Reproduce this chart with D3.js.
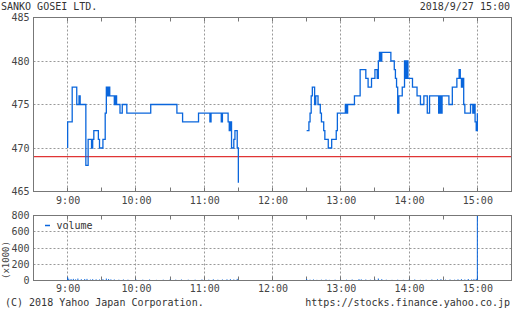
<!DOCTYPE html>
<html><head><meta charset="utf-8">
<script src="https://cdn.jsdelivr.net/npm/d3@7"></script>
<style>body{margin:0;background:#fff}svg{display:block}text{font-family:"DejaVu Sans Mono",monospace;}</style>
</head><body><svg id="c" width="512" height="310"></svg>
<script>
// ---- data (minutes since 9:00) ----
const title = "SANKO GOSEI LTD.";
const stamp = "2018/9/27 15:00";
const hourLabels = ["9:00","10:00","11:00","12:00","13:00","14:00","15:00"];
const priceTicks = [465,470,475,480,485];
const volTicks = [0,200,400,600,800];
const prevClose = 469;
const amMinutes = [0,0,4,8,10,11,16,18,21,22,23,27,28,31,33,34,35,36,37,41,42,43,46,48,52,73,96,101,115,125,126,135,136,141,142,143,144,146,147,149,150,150];
const amPrices  = [470,473,477,475,476,475,468,471,470,471,472,471,470,471,474,477,476,477,476,475,476,475,474,475,474,475,474,473,474,473,474,473,474,473,472,473,470,471,472,470,470,466];
const pmMinutes = [210,212,213,214,215,217,218,220,222,223,225,226,229,232,236,237,244,245,246,252,257,262,264,267,270,272,273,274,275,276,284,287,288,289,290,291,294,296,297,298,299,303,307,310,313,316,318,326,327,328,329,335,338,342,344,345,346,347,348,349,354,356,357,358,359,360,360];
const pmPrices  = [472,473,474,476,477,475,476,475,474,473,472,471,470,471,472,474,475,474,475,476,479,478,477,478,479,478,480,481,480,481,480,479,478,477,474,476,477,480,478,480,478,477,476,475,476,474,476,474,476,474,476,475,477,478,479,478,477,478,475,474,475,474,475,473,472,474,472];
const volMinutes = [0,1,3,5,7,9,12,15,17,20,22,25,28,31,34,36,38,41,45,49,53,60,66,72,78,84,90,95,100,106,112,118,124,128,132,136,140,143,146,149,
  210,213,216,219,223,227,230,235,240,245,250,256,258,262,266,270,273,276,280,285,290,295,300,305,310,315,320,325,328,332,336,340,343,346,349,352,355,357,359,360];
const volValues = [40,22,18,20,14,24,16,18,20,12,16,14,12,16,24,18,14,12,10,12,10,12,10,12,8,10,12,10,12,10,10,12,10,14,10,12,14,16,12,20,
  18,10,12,8,10,12,8,10,8,10,12,16,14,12,10,12,24,16,10,8,10,8,10,12,8,10,12,14,16,10,12,10,14,16,12,18,14,16,20,1000];

// ---- layout ----
const svg = d3.select("#c");
const L = 33.5, R = 511.5;
const pTop = 17.5, pBot = 191.5, vTop = 215.5, vBot = 280.5;
const x = d3.scaleLinear().domain([-30, 390]).range([L, R]);
const yP = d3.scaleLinear().domain([465, 485]).range([pBot, pTop]);
const yV = d3.scaleLinear().domain([0, 800]).range([vBot, vTop]);
const blue = "#0a66dc", gridC = "#999", axisC = "#777", textC = "#444";
const hours = hourLabels.map((d,i)=>i*60);
const halfHours = d3.range(-30, 391, 30);
const px = v => Math.round(v - 0.5) + 0.5;

function panel(top, bot, yScale, gridVals) {
  const g = svg.append("g");
  g.selectAll(".vg").data(hours).join("line")
    .attr("x1", d=>px(x(d))).attr("x2", d=>px(x(d))).attr("y1", top).attr("y2", bot)
    .attr("stroke", gridC).attr("stroke-dasharray", "2,2");
  g.selectAll(".hg").data(gridVals).join("line")
    .attr("x1", L).attr("x2", R).attr("y1", d=>px(yScale(d))).attr("y2", d=>px(yScale(d)))
    .attr("stroke", gridC).attr("stroke-dasharray", "2,2");
  g.selectAll(".tt").data(halfHours).join("line")
    .attr("x1", d=>px(x(d))).attr("x2", d=>px(x(d))).attr("y1", top).attr("y2", top+4)
    .attr("stroke", axisC);
  g.selectAll(".tb").data(halfHours).join("line")
    .attr("x1", d=>px(x(d))).attr("x2", d=>px(x(d))).attr("y1", bot).attr("y2", bot-4)
    .attr("stroke", axisC);
  return g;
}
panel(pTop, pBot, yP, [470,475,480]);
panel(vTop, vBot, yV, [200,400,600]);

// previous close line
svg.append("line").attr("x1", L).attr("x2", R)
  .attr("y1", yP(prevClose)).attr("y2", yP(prevClose))
  .attr("stroke", "#e03535").attr("stroke-width", 1.2);

// price line
const line = d3.line().x(d=>x(d[0])).y(d=>yP(d[1])).curve(d3.curveStepAfter);
[[amMinutes, amPrices],[pmMinutes, pmPrices]].forEach(([ms, ps]) => {
  svg.append("path").datum(ms.map((m,i)=>[m, ps[i]]))
    .attr("d", line).attr("fill", "none").attr("stroke", blue).attr("stroke-width", 1.3);
});

// volume
svg.append("clipPath").attr("id","vclip").append("rect")
  .attr("x", L).attr("y", vTop).attr("width", R-L).attr("height", vBot-vTop);
svg.append("g").attr("clip-path","url(#vclip)").selectAll("line").data(volMinutes).join("line")
  .attr("x1", d=>x(d)).attr("x2", d=>x(d))
  .attr("y1", vBot).attr("y2", (d,i)=>yV(volValues[i]))
  .attr("stroke", blue).attr("stroke-width", 1);

// borders
[[pTop,pBot],[vTop,vBot]].forEach(([t,b]) => {
  svg.append("rect").attr("x", L).attr("y", t).attr("width", R-L).attr("height", b-t)
    .attr("fill","none").attr("stroke", axisC);
});

// axes (labels only)
function styleAxis(g) {
  g.select(".domain").remove();
  g.selectAll("text").attr("fill", textC).attr("font-size", 10).attr("font-family", '"DejaVu Sans Mono",monospace');
}
svg.append("g").attr("transform", `translate(${L},0)`)
  .call(d3.axisLeft(yP).tickValues(priceTicks).tickSize(0).tickPadding(4).tickFormat(d3.format("d"))).call(styleAxis);
svg.append("g").attr("transform", `translate(${L},0)`)
  .call(d3.axisLeft(yV).tickValues(volTicks).tickSize(0).tickPadding(4).tickFormat(d3.format("d"))).call(styleAxis);
svg.append("g").attr("transform", `translate(0,${pBot})`)
  .call(d3.axisBottom(x).tickValues(hours).tickSize(0).tickPadding(5).tickFormat((d,i)=>hourLabels[i])).call(styleAxis);
svg.append("g").attr("transform", `translate(0,${vBot})`)
  .call(d3.axisBottom(x).tickValues(hours).tickSize(0).tickPadding(4).tickFormat((d,i)=>hourLabels[i])).call(styleAxis);

// legend
svg.append("line").attr("x1", 45).attr("x2", 50).attr("y1", 225.5).attr("y2", 225.5)
  .attr("stroke", blue).attr("stroke-width", 1.5);
svg.append("text").attr("x", 56.5).attr("y", 229).attr("font-size", 10).attr("fill", "#333").text("volume");

// y label
svg.append("text").attr("transform", "translate(9,260) rotate(-90)").attr("text-anchor","middle")
  .attr("font-size", 9).attr("fill", textC).text("(x1000)");

// header / footer
svg.append("text").attr("x", 1).attr("y", 10).attr("font-size", 10).attr("fill", "#333").text(title);
svg.append("text").attr("x", 510).attr("y", 10).attr("text-anchor","end").attr("font-size", 10).attr("fill", "#333").text(stamp);
svg.append("text").attr("x", 5).attr("y", 305.5).attr("font-size", 10).attr("fill", "#333").text("(C) 2018 Yahoo Japan Corporation.");
svg.append("text").attr("x", 510).attr("y", 305.5).attr("text-anchor","end").attr("font-size", 10).attr("fill", "#333").text("https://stocks.finance.yahoo.co.jp");
</script></body></html>
